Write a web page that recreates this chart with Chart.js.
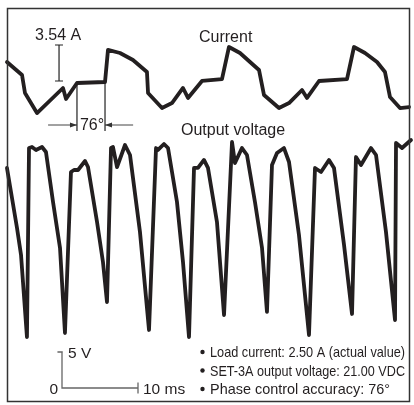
<!DOCTYPE html>
<html>
<head>
<meta charset="utf-8">
<script src="https://cdn.jsdelivr.net/npm/chart.js@4"></script>
<style>
  html, body { margin: 0; padding: 0; background: #fff; }
  #wrap { width: 414px; height: 405px; }
</style>
</head>
<body>
<div id="wrap"><canvas id="scope" width="414" height="405"></canvas></div>
<script>
// current trace: time (ms) / amps
const currentT = [-7.24, -5.26, -4.87, -3.29, 0.13, 0.53, 1.97, 5.66, 6.05, 7.63, 9.34, 11.18, 11.32, 13.16, 14.47, 15.92, 16.58, 18.42,
  21.05, 21.97, 23.42, 24.74, 25.92, 26.58, 28.55, 29.87, 31.58, 32.24, 33.82, 37.50, 38.42, 39.87, 41.45, 42.50, 43.16, 44.47, 45.66];
const currentA = [6.69, 5.41, 3.64, 1.67, 4.13, 3.05, 4.62, 4.72, 7.87, 7.57, 6.88, 5.70, 3.64, 2.16, 2.65, 4.13, 3.15, 4.82,
  5.01, 8.16, 7.57, 6.69, 5.90, 3.44, 2.16, 2.65, 3.93, 3.15, 4.82, 5.01, 8.16, 7.57, 6.69, 5.70, 3.24, 2.16, 2.26];

// output voltage trace: time (ms) / volts
const voltageT = [-7.24, -5.92, -5.39, -4.61, -4.34, -3.95, -3.42, -2.63, -2.11, -1.18, -0.26, 0.39,
  1.18, 1.58, 2.11, 3.03, 3.42, 4.61, 5.39, 5.92,
  6.45, 6.71, 7.24, 8.29, 8.95, 10.26, 11.45,
  12.37, 12.63, 13.42, 13.95, 15.13, 15.92, 16.71,
  17.37, 17.89, 18.68, 19.21, 20.39, 21.32,
  22.37, 22.76, 23.68, 24.34, 25.39, 26.32, 26.97,
  27.63, 28.29, 29.21, 29.87, 31.18, 32.50,
  33.29, 34.08, 35.13, 35.79, 37.11, 38.16,
  38.68, 39.34, 40.66, 41.32, 42.63, 43.82,
  43.95, 44.74, 45.92];
const voltageV = [30.56, 22.22, 18.47, 7.08, 33.33, 33.47, 33.06, 33.47, 32.78, 25.83, 19.44, 7.64,
  30.00, 30.28, 30.28, 31.53, 30.69, 23.06, 17.50, 11.94,
  33.33, 33.47, 30.69, 33.75, 32.36, 21.67, 8.06,
  33.33, 33.06, 33.89, 33.33, 25.83, 17.50, 7.08,
  30.56, 30.56, 31.67, 30.56, 23.06, 10.14,
  34.17, 31.25, 33.33, 32.36, 25.83, 19.44, 10.56,
  30.97, 32.64, 33.33, 31.39, 21.25, 7.36,
  30.56, 30.00, 31.67, 30.56, 19.86, 10.28,
  32.08, 30.97, 33.33, 32.36, 21.67, 9.44,
  34.03, 33.33, 34.44];

// scale bar and annotation values
const barTime = 10;      // ms
const barVolt = 5;       // V
const beamLow = 4.82;    // A, flat part of current
const beamSpan = 3.54;   // A
const beamT = -0.39;     // ms
const phaseT = [1.97, 5.66];  // ms, conduction start/end markers
const notes = [
  'Load current: 2.50 A (actual value)',
  'SET-3A output voltage: 21.00 VDC',
  'Phase control accuracy: 76\u00b0'
];

const ink = '#231f20';
const FONT = '"Liberation Sans", Arial, Helvetica, sans-serif';

function pts(xs, ys) {
  return xs.map((x, i) => ({ x: x, y: ys[i] }));
}

const beamPts = [
  { x: beamT - 0.53, y: beamLow + beamSpan }, { x: beamT + 0.52, y: beamLow + beamSpan }, { x: beamT, y: null },
  { x: beamT, y: beamLow + beamSpan }, { x: beamT, y: beamLow }, { x: beamT, y: null },
  { x: beamT - 0.53, y: beamLow }, { x: beamT + 0.52, y: beamLow }
];
const markPts = [
  { x: phaseT[0], y: 4.62 }, { x: phaseT[0], y: -0.1 }, { x: phaseT[0], y: null },
  { x: phaseT[1], y: 4.72 }, { x: phaseT[1], y: -0.1 }
];
const arrowY = 0.49;
const arrowPts = [
  { x: phaseT[0] - 3.8, y: arrowY }, { x: phaseT[0], y: arrowY }, { x: phaseT[0], y: null },
  { x: phaseT[1], y: arrowY }, { x: phaseT[1] + 3.7, y: arrowY }
];
const barPts = [
  { x: -0.6, y: barVolt }, { x: 0.1, y: barVolt }, { x: 0, y: null },
  { x: 0, y: barVolt }, { x: 0, y: 0 }, { x: barTime, y: 0 }, { x: barTime, y: null },
  { x: barTime, y: 0.75 }, { x: barTime, y: -0.75 }
];

const frameAndText = {
  id: 'frameAndText',
  beforeDraw(chart) {
    const c = chart.ctx;
    c.save();
    c.fillStyle = '#fff';
    c.fillRect(0, 0, chart.width, chart.height);
    c.restore();
  },
  afterDatasetsDraw(chart) {
    const c = chart.ctx;
    const sx = chart.scales.x, sv = chart.scales.yV, si = chart.scales.yI;
    c.save();
    // frame
    c.strokeStyle = '#333';
    c.lineWidth = 1.5;
    c.strokeRect(7.5, 8.5, 402, 393);

    // arrowheads pointing at the phase markers
    c.fillStyle = '#333';
    const ay = si.getPixelForValue(arrowY);
    const ax0 = sx.getPixelForValue(phaseT[0]);
    const ax1 = sx.getPixelForValue(phaseT[1]);
    c.beginPath();
    c.moveTo(ax0, ay); c.lineTo(ax0 - 7, ay - 2.5); c.lineTo(ax0 - 7, ay + 2.5); c.closePath();
    c.moveTo(ax1, ay); c.lineTo(ax1 + 7, ay - 2.5); c.lineTo(ax1 + 7, ay + 2.5); c.closePath();
    c.fill();

    c.fillStyle = ink;
    c.textBaseline = 'alphabetic';
    c.font = '16px ' + FONT;
    c.fillText('3.54 A', 35, 40);
    c.fillText('Current', 199, 42);
    c.fillText('Output voltage', 181, 135);
    c.fillText('76\u00b0', ax0 + 3, 130);

    c.font = '15.5px ' + FONT;
    const x0 = sx.getPixelForValue(0), x10 = sx.getPixelForValue(barTime);
    const y0 = sv.getPixelForValue(0), y5 = sv.getPixelForValue(barVolt);
    c.fillText('5 V', x0 + 6, y5 + 5.5);
    c.textAlign = 'right';
    c.fillText('0', x0 - 4, y0 + 6);
    c.textAlign = 'left';
    c.fillText('10 ms', x10 + 5, y0 + 6);

    // notes
    c.font = '14.5px ' + FONT;
    notes.forEach((t, k) => {
      const by = 357 + k * 18.5;
      c.beginPath();
      c.arc(202.5, by - 5, 2.2, 0, Math.PI * 2);
      c.fill();
      c.fillText(t, 210, by, k === 2 ? 180 : 195);
    });
    c.restore();
  }
};

new Chart(document.getElementById('scope'), {
  type: 'line',
  data: {
    datasets: [
      { label: 'Current', data: pts(currentT, currentA), yAxisID: 'yI', borderColor: ink, borderWidth: 3.8, borderJoinStyle: 'round', borderCapStyle: 'round', pointRadius: 0, tension: 0 },
      { label: 'Output voltage', data: pts(voltageT, voltageV), yAxisID: 'yV', borderColor: ink, borderWidth: 3.8, borderJoinStyle: 'round', borderCapStyle: 'round', pointRadius: 0, tension: 0 },
      { label: 'beam', data: beamPts, yAxisID: 'yI', borderColor: '#222', borderWidth: 1.2, pointRadius: 0, spanGaps: false },
      { label: 'marks', data: markPts, yAxisID: 'yI', borderColor: '#222', borderWidth: 1.2, pointRadius: 0, spanGaps: false },
      { label: 'arrows', data: arrowPts, yAxisID: 'yI', borderColor: '#444', borderWidth: 1, pointRadius: 0, spanGaps: false },
      { label: 'scale', data: barPts, yAxisID: 'yV', borderColor: '#666', borderWidth: 1.3, pointRadius: 0, spanGaps: false }
    ]
  },
  options: {
    responsive: false,
    animation: false,
    layout: { padding: 0 },
    plugins: { legend: { display: false }, tooltip: { enabled: false } },
    scales: {
      x: { type: 'linear', display: false, min: -8.158, max: 46.316 },
      yV: { type: 'linear', display: false, min: -2.361, max: 53.889 },
      yI: { type: 'linear', display: false, min: -27.042, max: 12.783 }
    }
  },
  plugins: [frameAndText]
});
</script>
</body>
</html>
